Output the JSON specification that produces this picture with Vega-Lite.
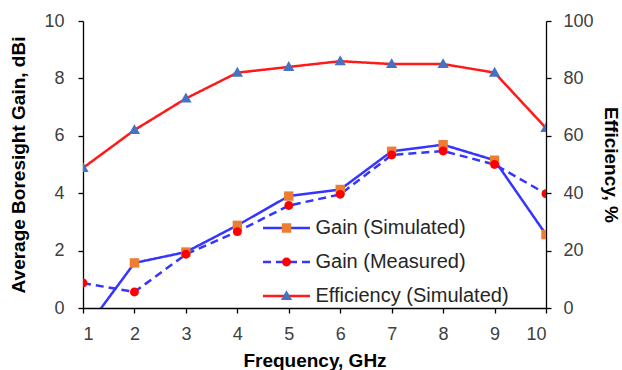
{
  "$schema": "https://vega.github.io/schema/vega-lite/v6.json",
  "width": 463,
  "height": 287,
  "autosize": {"type": "none"},
  "padding": {"left": 83, "top": 21, "right": 76, "bottom": 62},
  "background": "#ffffff",
  "config": {
    "view": {"stroke": null},
    "font": "Liberation Sans",
    "axis": {
      "grid": false,
      "domainColor": "#000000",
      "tickColor": "#000000",
      "domainWidth": 1.3,
      "tickWidth": 1.3,
      "tickSize": 5,
      "labelFont": "Liberation Sans",
      "labelFontSize": 18,
      "labelColor": "#404040",
      "titleFont": "Liberation Sans",
      "titleFontSize": 19,
      "titleFontWeight": "bold",
      "titleColor": "#000000"
    }
  },
  "data": {
    "values": [
      {"f": 1, "s": "Gain (Simulated)", "m": "sq", "v": -0.86},
      {"f": 2, "s": "Gain (Simulated)", "m": "sq", "v": 1.57},
      {"f": 3, "s": "Gain (Simulated)", "m": "sq", "v": 1.95},
      {"f": 4, "s": "Gain (Simulated)", "m": "sq", "v": 2.88},
      {"f": 5, "s": "Gain (Simulated)", "m": "sq", "v": 3.9},
      {"f": 6, "s": "Gain (Simulated)", "m": "sq", "v": 4.13},
      {"f": 7, "s": "Gain (Simulated)", "m": "sq", "v": 5.46},
      {"f": 8, "s": "Gain (Simulated)", "m": "sq", "v": 5.69},
      {"f": 9, "s": "Gain (Simulated)", "m": "sq", "v": 5.15},
      {"f": 10, "s": "Gain (Simulated)", "m": "sq", "v": 2.56},
      {"f": 1, "s": "Gain (Measured)", "m": "ci", "v": 0.87},
      {"f": 2, "s": "Gain (Measured)", "m": "ci", "v": 0.56},
      {"f": 3, "s": "Gain (Measured)", "m": "ci", "v": 1.87},
      {"f": 4, "s": "Gain (Measured)", "m": "ci", "v": 2.66},
      {"f": 5, "s": "Gain (Measured)", "m": "ci", "v": 3.57},
      {"f": 6, "s": "Gain (Measured)", "m": "ci", "v": 3.96},
      {"f": 7, "s": "Gain (Measured)", "m": "ci", "v": 5.33},
      {"f": 8, "s": "Gain (Measured)", "m": "ci", "v": 5.47},
      {"f": 9, "s": "Gain (Measured)", "m": "ci", "v": 5.0},
      {"f": 10, "s": "Gain (Measured)", "m": "ci", "v": 3.98},
      {"f": 1, "s": "Efficiency (Simulated)", "m": "tr", "v": 48.8},
      {"f": 2, "s": "Efficiency (Simulated)", "m": "tr", "v": 62},
      {"f": 3, "s": "Efficiency (Simulated)", "m": "tr", "v": 73},
      {"f": 4, "s": "Efficiency (Simulated)", "m": "tr", "v": 82},
      {"f": 5, "s": "Efficiency (Simulated)", "m": "tr", "v": 84},
      {"f": 6, "s": "Efficiency (Simulated)", "m": "tr", "v": 86},
      {"f": 7, "s": "Efficiency (Simulated)", "m": "tr", "v": 85},
      {"f": 8, "s": "Efficiency (Simulated)", "m": "tr", "v": 85},
      {"f": 9, "s": "Efficiency (Simulated)", "m": "tr", "v": 82},
      {"f": 10, "s": "Efficiency (Simulated)", "m": "tr", "v": 62.7}
    ]
  },
  "encoding": {
    "x": {
      "field": "f",
      "type": "quantitative",
      "scale": {"domain": [1, 10], "nice": false, "zero": false},
      "axis": {"values": [1, 2, 3, 4, 5, 6, 7, 8, 9, 10], "title": "Frequency, GHz", "labelPadding": 12, "titlePadding": 8}
    }
  },
  "layer": [
    {
      "transform": [{"filter": "datum.m != 'tr'"}],
      "encoding": {
        "y": {
          "field": "v",
          "type": "quantitative",
          "scale": {"domain": [0, 10], "nice": false},
          "axis": {"orient": "left", "values": [0, 2, 4, 6, 8, 10], "title": "Average Boresight Gain, dBi", "labelPadding": 14, "titlePadding": 15}
        }
      },
      "layer": [
        {
          "mark": {"type": "line", "strokeWidth": 2.5, "clip": true},
          "encoding": {
            "stroke": {
              "field": "s",
              "type": "nominal",
              "scale": {"domain": ["Gain (Simulated)", "Gain (Measured)", "Efficiency (Simulated)"], "range": ["#3535FF", "#3535FF", "#FF1A1A"]},
              "legend": {"orient": "none", "legendX": 178.5, "legendY": 199, "title": null, "symbolType": "stroke", "symbolSize": 2209, "symbolStrokeWidth": 2.5, "clipHeight": 16, "rowPadding": 14, "labelFontSize": 20, "labelFont": "Liberation Sans", "labelColor": "#262626", "labelOffset": 4, "labelLimit": 400, "padding": 0}
            },
            "strokeDash": {
              "field": "s",
              "type": "nominal",
              "scale": {"domain": ["Gain (Simulated)", "Gain (Measured)", "Efficiency (Simulated)"], "range": [[1, 0], [8, 5], [1, 0]]},
              "legend": {"orient": "none", "legendX": 178.5, "legendY": 199, "title": null, "symbolType": "stroke", "symbolSize": 2209, "symbolStrokeWidth": 2.5, "clipHeight": 16, "rowPadding": 14, "labelFontSize": 20, "labelFont": "Liberation Sans", "labelColor": "#262626", "labelOffset": 4, "labelLimit": 400, "padding": 0}
            }
          }
        },
        {
          "mark": {"type": "point", "filled": true, "opacity": 1, "size": 2209, "clip": true},
          "encoding": {
            "color": {
              "field": "m",
              "type": "nominal",
              "scale": {"domain": ["sq", "ci", "tr"], "range": ["#ED7D31", "#FF0000", "#4472C4"]},
              "legend": {"orient": "none", "legendX": 178.5, "legendY": 199, "title": null, "symbolSize": 2209, "symbolStrokeWidth": 2.5, "symbolStrokeColor": "transparent", "symbolOpacity": 1, "clipHeight": 16, "rowPadding": 14, "labelFontSize": 20, "labelExpr": "''", "labelOffset": 4, "padding": 0}
            },
            "shape": {
              "field": "m",
              "type": "nominal",
              "scale": {"domain": ["sq", "ci", "tr"], "range": ["M-0.2,-0.2H0.2V0.2H-0.2Z", "M0.19,0A0.19,0.19,0,1,1,-0.19,0A0.19,0.19,0,1,1,0.19,0Z", "M0,-0.25L0.24,0.17L-0.24,0.17Z"]},
              "legend": {"orient": "none", "legendX": 178.5, "legendY": 199, "title": null, "symbolSize": 2209, "symbolStrokeWidth": 2.5, "symbolStrokeColor": "transparent", "symbolOpacity": 1, "clipHeight": 16, "rowPadding": 14, "labelFontSize": 20, "labelExpr": "''", "labelOffset": 4, "padding": 0}
            }
          }
        }
      ]
    },
    {
      "transform": [{"filter": "datum.m == 'tr'"}],
      "encoding": {
        "y": {
          "field": "v",
          "type": "quantitative",
          "scale": {"domain": [0, 100], "nice": false},
          "axis": {"orient": "right", "values": [0, 20, 40, 60, 80, 100], "title": "Efficiency, %", "labelPadding": 12, "titlePadding": 7}
        }
      },
      "layer": [
        {
          "mark": {"type": "line", "strokeWidth": 2.5, "clip": true},
          "encoding": {
            "stroke": {"field": "s", "type": "nominal"},
            "strokeDash": {"field": "s", "type": "nominal"}
          }
        },
        {
          "mark": {"type": "point", "filled": true, "opacity": 1, "size": 2209, "clip": true},
          "encoding": {
            "color": {"field": "m", "type": "nominal"},
            "shape": {"field": "m", "type": "nominal"}
          }
        }
      ]
    }
  ],
  "resolve": {"scale": {"y": "independent"}}
}
